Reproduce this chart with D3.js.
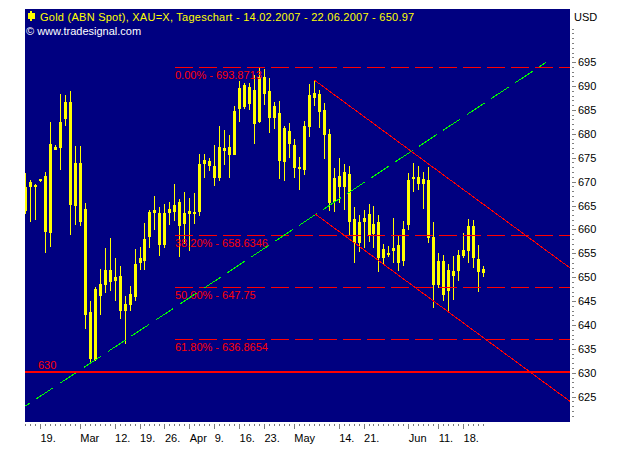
<!DOCTYPE html>
<html>
<head>
<meta charset="utf-8">
<title>Gold</title>
<style>
	html, body { margin: 0; padding: 0; background: white; }
	svg { display: block; }
	text { font-family: "Liberation Sans", Arial, sans-serif; font-size: 11px; }
</style>
</head>
<body>
<svg id="chart" width="629" height="455"></svg>
<script src="https://d3js.org/d3.v7.min.js"></script>
<script>
// candle values, one entry per trading day (all candles are drawn the same colour)
const highs = [671.76,670.23,669.40,670.44,671.84,682.37,677.56,688.23,688.02,688.85,677.35,677.35,665.42,644.92,647.85,651.62,656.01,658.10,653.92,652.24,645.97,648.12,655.80,656.22,661.24,663.96,666.89,664.59,665.21,665.63,669.40,666.26,667.72,666.47,667.51,675.67,675.67,674.84,677.56,681.53,680.69,679.65,685.71,690.94,690.53,690.53,692.20,693.66,693.46,691.57,686.55,686.76,681.53,682.16,678.81,675.05,682.58,690.32,690.94,689.06,686.34,680.90,672.74,674.84,673.58,673.16,664.59,662.91,663.96,665.21,664.79,662.91,656.85,656.43,662.28,658.52,661.66,671.70,673.79,673.16,671.91,672.95,661.45,654.96,654.54,652.66,654.33,655.59,659.15,662.08,661.87,656.64,652.24];
const bodyTops = [668.77,669.82,669.19,670.44,671.07,677.77,677.14,682.37,686.55,686.55,673.79,673.79,664.17,642.62,647.43,648.48,651.41,651.41,649.94,650.15,644.29,646.39,652.66,653.92,657.89,663.54,663.96,663.33,663.33,664.17,665.00,665.63,663.33,663.75,663.54,673.58,674.42,674.21,673.16,677.14,676.93,677.14,684.67,689.48,690.11,689.69,689.06,691.78,691.78,688.85,685.71,684.25,681.11,680.48,677.56,672.95,681.53,688.02,688.43,688.23,684.88,679.86,670.65,671.07,671.91,671.49,662.08,661.45,662.28,663.12,661.03,661.45,655.80,654.96,656.01,656.64,659.98,670.23,670.86,670.86,670.44,670.23,658.31,653.29,653.29,651.41,651.20,654.54,655.59,660.61,660.61,653.71,651.62];
const bodyBottoms = [663.75,668.77,668.77,670.02,659.42,659.21,676.51,676.93,683.00,665.00,664.79,661.51,641.99,632.79,632.58,645.97,648.27,648.90,649.10,642.83,642.83,644.08,645.76,652.87,653.29,658.31,663.33,656.64,656.64,663.33,663.54,660.61,661.03,663.12,663.12,663.54,673.58,673.16,670.65,670.65,676.30,675.46,675.46,685.09,685.51,686.13,681.95,682.37,688.23,683.20,683.20,674.21,674.00,677.77,672.74,672.54,672.33,681.32,687.39,684.46,679.65,665.42,665.63,668.77,668.77,661.45,657.05,657.05,661.45,658.73,658.94,653.92,653.92,654.54,655.38,652.87,653.29,660.82,670.65,669.40,669.40,658.10,648.27,648.27,646.18,647.01,650.15,651.20,654.33,655.38,653.92,650.99,650.78];
const lows = [663.12,661.51,661.87,669.82,655.03,656.28,676.51,672.33,681.53,658.73,660.82,660.61,639.06,631.95,632.37,641.99,646.59,647.01,644.92,641.16,635.93,642.83,644.92,651.41,651.41,656.01,659.77,654.33,656.01,660.82,661.66,654.13,656.85,655.38,661.03,662.70,670.65,672.12,668.98,670.02,673.37,670.65,675.46,682.37,685.09,684.88,677.77,682.16,685.92,680.07,680.90,670.44,670.02,674.84,670.65,668.14,671.28,679.23,685.71,681.11,674.63,663.75,663.54,665.42,663.96,658.73,652.87,655.17,656.01,657.26,656.01,650.99,652.66,654.13,652.87,651.20,652.24,659.77,667.72,668.14,664.17,657.05,643.46,647.64,644.92,642.41,645.13,649.10,653.92,652.87,651.82,646.80,649.94];

// bottom axis
const dateTickIndex = [3,11,18,23,28,33,38,43,48,54,63,68,77,83,88];
const dateTickLabels = ["19.","Mar","12.","19.","26.","Apr","9.","16.","23.","May","14.","21.","Jun","11.","18."];

// right axis
const priceTicks = [625,630,635,640,645,650,655,660,665,670,675,680,685,690,695];
const priceMinorTicks = d3.range(621,703);

// drawing tools on the chart
const fibLevels = [693.8713,658.6346,647.75,636.8654];
const fibLabels = ["0.00% - 693.8713","38.20% - 658.6346","50.00% - 647.75","61.80% - 636.8654"];
const supportLevel = 630;
const greenTrend = [[0,622.95],[104.6,694.86]];
const upperChannel = [[58.0,691.15],[109.4,651.82]];
const lowerChannel = [[58.2,663.12],[109.4,623.9]];

const plotLeft = 25, plotRight = 570, plotTop = 9, plotBottom = 422;

let x = d3.scaleLinear().domain([0,92]).range([25.5,483.5]);
let y = d3.scaleLinear().domain([630,695]).range([372.3,61.6]);

let svg = d3.select('#chart');

svg.append('clipPath').attr('id','plotClip')
	.append('rect')
	.attr('x',plotLeft).attr('y',plotTop)
	.attr('width',plotRight-plotLeft).attr('height',plotBottom-plotTop);

svg.append('rect')
	.attr('x',plotLeft).attr('y',plotTop)
	.attr('width',plotRight-plotLeft).attr('height',plotBottom-plotTop)
	.attr('fill','#000080');

let plot = svg.append('g').attr('clip-path','url(#plotClip)');

// candles
let candles = plot.append('g').attr('shape-rendering','crispEdges').attr('fill','#ffff00')
	.selectAll('g').data(highs).enter().append('g');

candles.append('rect')   // wick
	.attr('x',(d,i) => Math.floor(x(i)))
	.attr('width',1)
	.attr('y',(d,i) => y(highs[i]))
	.attr('height',(d,i) => y(lows[i]) - y(highs[i]));

candles.append('rect')   // body
	.attr('x',(d,i) => Math.floor(x(i)) - 1)
	.attr('width',3)
	.attr('y',(d,i) => y(bodyTops[i]))
	.attr('height',(d,i) => Math.max(2, y(bodyBottoms[i]) - y(bodyTops[i])));

// fibonacci levels, sitting on a whole pixel row so no crisp setting is needed
plot.selectAll('.fib').data(fibLevels).enter().append('line')
	.attr('class','fib')
	.attr('x1',175).attr('x2',plotRight)
	.attr('y1',d => Math.round(y(d)) + 0.5).attr('y2',d => Math.round(y(d)) + 0.5)
	.attr('stroke','#ff0000')
	.attr('stroke-dasharray','18,6');

plot.selectAll('.fibLabel').data(fibLevels).enter().append('text')
	.attr('class','fibLabel')
	.attr('x',175)
	.attr('y',d => Math.round(y(d)) + 12)
	.attr('fill','#ff0000')
	.text((d,i) => fibLabels[i]);

// trend lines
let trendLine = d3.line().x(d => x(d[0])).y(d => y(d[1]));

plot.append('path')
	.attr('d',trendLine(greenTrend))
	.attr('fill','none')
	.attr('stroke','#00ff00')
	.attr('stroke-dasharray','21.1,7.6')
	.attr('stroke-dashoffset',16.3)
	.attr('shape-rendering','crispEdges');

plot.selectAll('.channel').data([upperChannel,lowerChannel]).enter().append('path')
	.attr('class','channel')
	.attr('d',trendLine)
	.attr('fill','none')
	.attr('stroke','#ff0000')
	.attr('shape-rendering','crispEdges');

// 630 support line
plot.append('line')
	.attr('x1',plotLeft).attr('x2',plotRight)
	.attr('y1',y(supportLevel)).attr('y2',y(supportLevel))
	.attr('stroke','#ff0000').attr('stroke-width',2)
	.attr('shape-rendering','crispEdges');

plot.append('text')
	.attr('x',38).attr('y',y(supportLevel) - 3)
	.attr('fill','#ff0000')
	.text(supportLevel);

// axes
let xMinor = d3.axisBottom(x).tickValues(d3.range(0,93)).tickSize(2).tickFormat('').offset(0);
let xMajor = d3.axisBottom(x).tickValues(dateTickIndex).tickSize(5).offset(0)
	.tickFormat((d,i) => dateTickLabels[i]);
let yMinor = d3.axisRight(y).tickValues(priceMinorTicks).tickSize(2).tickFormat('').offset(0);
let yMajor = d3.axisRight(y).tickValues(priceTicks).tickSize(4).offset(0);

function drawAxis(axis, tx, ty) {
	let g = svg.append('g').attr('transform','translate(' + tx + ',' + ty + ')').call(axis);
	g.select('.domain').remove();
	g.selectAll('line').attr('stroke','#808080').attr('shape-rendering','crispEdges');
	g.selectAll('text').attr('fill','black').attr('font-family',null).attr('font-size',null);
	g.attr('font-family',null).attr('font-size',null);
	return g;
}

drawAxis(xMinor,0,424);
let xg = drawAxis(xMajor,0,424);
xg.selectAll('text').attr('text-anchor','start').attr('dy',null).attr('y',18).attr('x',0);

drawAxis(yMinor,572,1);
let yg = drawAxis(yMajor,572,1);
yg.selectAll('text').attr('x',6);

// header
svg.append('rect').attr('x',30).attr('y',11).attr('width',2).attr('height',10)
	.attr('fill','#ffff00').attr('shape-rendering','crispEdges');
svg.append('rect').attr('x',28).attr('y',13).attr('width',7).attr('height',6)
	.attr('fill','#ffff00').attr('shape-rendering','crispEdges');

svg.append('text').attr('x',40).attr('y',21).attr('fill','#ffff00')
	.attr('letter-spacing',0.25)
	.text('Gold (ABN Spot), XAU=X, Tageschart - 14.02.2007 - 22.06.2007 - 650.97');
svg.append('text').attr('x',26).attr('y',35).attr('fill','white')
	.text('© www.tradesignal.com');
svg.append('text').attr('x',574).attr('y',21).attr('fill','black')
	.text('USD');
</script>
</body>
</html>
